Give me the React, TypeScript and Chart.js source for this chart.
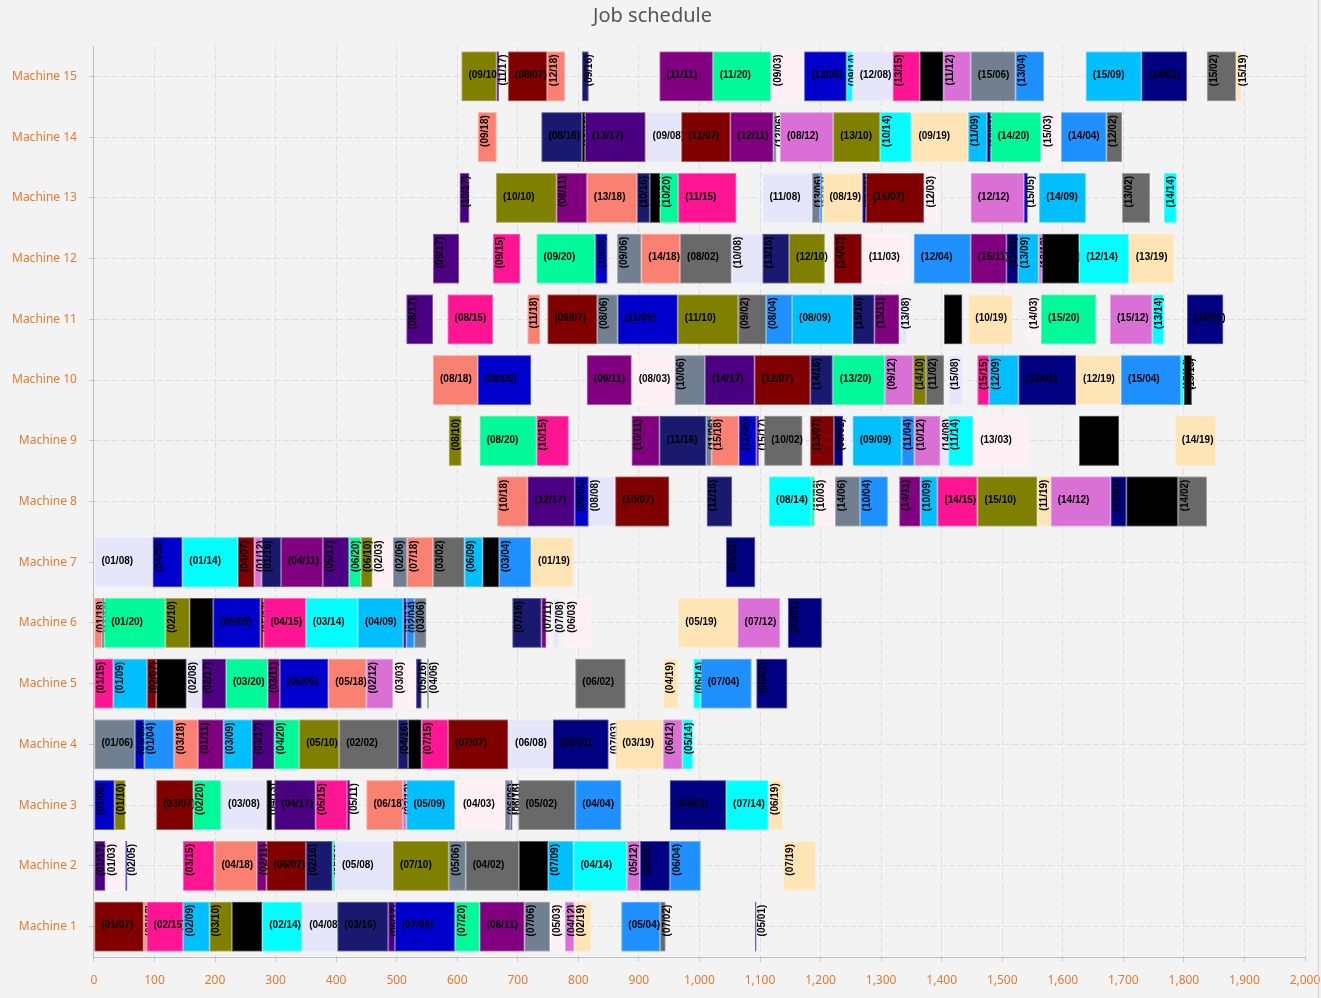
import React, { useEffect, useRef } from "react";
import { Chart, registerables } from "chart.js";

Chart.register(...registerables);

// [operation, job, start, end]
const machine15 = [[9,10,607,665],[11,17,665,669],[8,7,684,748],[12,18,748,778],[9,16,806,817],[11,11,934,1022],[11,20,1022,1118],[9,3,1118,1173],[13,5,1173,1243],[9,14,1243,1253],[12,8,1253,1319],[13,15,1319,1364],[10,13,1364,1403],[11,12,1403,1448],[15,6,1448,1522],[13,4,1522,1569],[15,9,1638,1730],[14,1,1730,1805],[15,2,1838,1886],[15,19,1886,1895]];
const machine14 = [[9,18,634,665],[8,16,739,806],[8,13,806,811],[13,17,811,911],[9,8,911,970],[11,7,970,1051],[12,11,1051,1122],[12,6,1122,1127],[8,12,1133,1221],[13,10,1221,1298],[10,14,1298,1350],[9,19,1350,1444],[11,9,1444,1475],[10,1,1475,1481],[14,20,1481,1564],[15,3,1564,1597],[14,4,1597,1672],[12,2,1672,1698]];
const machine13 = [[10,17,604,620],[10,10,664,764],[8,11,764,814],[13,18,814,897],[10,16,897,918],[9,13,918,935],[10,20,935,965],[11,15,965,1061],[11,8,1104,1186],[13,6,1186,1199],[9,4,1199,1203],[8,19,1203,1269],[9,1,1269,1275],[15,7,1275,1371],[12,3,1371,1393],[12,12,1448,1536],[15,5,1536,1542],[14,9,1561,1638],[13,2,1698,1744],[14,14,1767,1788]];
const machine12 = [[9,17,560,603],[9,15,659,704],[9,20,731,828],[10,5,828,848],[9,6,864,904],[14,18,904,968],[8,2,968,1053],[10,8,1053,1104],[13,16,1104,1148],[12,10,1148,1207],[14,7,1222,1268],[11,3,1268,1345],[12,4,1354,1448],[15,11,1448,1507],[11,1,1507,1526],[13,9,1526,1560],[13,12,1560,1566],[12,13,1566,1627],[12,14,1627,1709],[13,19,1709,1784]];
const machine11 = [[8,17,516,560],[8,15,584,659],[11,18,716,737],[9,7,749,831],[8,6,831,865],[11,5,865,964],[11,10,964,1064],[9,2,1064,1110],[8,4,1110,1153],[8,9,1153,1253],[15,16,1253,1289],[13,11,1289,1330],[13,8,1330,1343],[11,13,1404,1434],[10,19,1444,1517],[14,3,1542,1564],[15,20,1564,1655],[15,12,1678,1748],[13,14,1748,1767],[15,1,1805,1865]];
const machine10 = [[8,18,560,634],[8,5,634,722],[9,11,814,888],[8,3,888,959],[10,6,959,1009],[14,17,1009,1091],[12,7,1091,1183],[14,16,1183,1220],[13,20,1220,1306],[9,12,1306,1353],[14,10,1353,1374],[11,2,1374,1404],[15,8,1411,1435],[15,15,1459,1478],[12,9,1478,1527],[12,1,1527,1622],[12,19,1622,1696],[15,4,1696,1795],[15,14,1795,1800],[15,13,1800,1813]];
const machine9 = [[8,10,586,607],[8,20,637,731],[10,15,731,784],[10,11,888,934],[11,16,934,1011],[11,6,1011,1020],[15,18,1020,1065],[12,5,1065,1094],[15,17,1094,1098],[10,2,1107,1170],[13,7,1183,1222],[8,1,1222,1237],[9,9,1253,1334],[11,4,1334,1355],[10,12,1355,1398],[14,8,1398,1411],[11,14,1411,1452],[13,3,1452,1542],[13,13,1627,1693],[14,19,1785,1853]];
const machine8 = [[10,18,666,716],[12,17,716,794],[9,5,794,817],[8,8,817,861],[10,7,861,950],[12,16,1012,1054],[8,14,1115,1185],[12,20,1185,1190],[10,3,1190,1224],[14,6,1224,1265],[10,4,1265,1311],[14,11,1330,1365],[10,9,1365,1393],[14,15,1393,1459],[15,10,1459,1558],[11,19,1558,1580],[14,12,1580,1679],[13,1,1679,1705],[14,13,1705,1790],[14,2,1790,1838]];
const machine7 = [[1,8,0,97],[4,5,97,146],[1,14,146,238],[4,7,238,265],[1,12,265,277],[1,16,277,309],[4,11,309,378],[5,17,378,421],[6,20,421,441],[6,10,441,460],[2,3,460,494],[2,6,494,517],[7,18,517,560],[3,2,560,612],[6,9,612,642],[6,13,642,669],[3,4,669,722],[1,19,722,792],[4,1,1044,1092]];
const machine6 = [[1,18,0,13],[1,2,13,17],[1,20,17,118],[2,10,118,158],[2,13,158,197],[5,5,197,275],[5,7,275,280],[4,15,280,350],[3,14,350,436],[4,9,436,511],[7,17,511,516],[2,4,516,529],[3,6,529,549],[7,16,691,739],[7,11,739,747],[7,8,758,768],[6,3,778,821],[5,19,965,1063],[7,12,1063,1133],[7,1,1146,1202]];
const machine5 = [[1,15,0,32],[1,9,32,88],[2,7,88,103],[1,13,103,153],[2,8,153,178],[2,17,178,218],[3,20,218,287],[3,11,287,307],[6,5,307,387],[5,18,387,450],[2,12,450,494],[3,3,494,532],[5,16,532,541],[4,6,550,553],[6,2,795,878],[4,19,940,965],[6,14,990,1002],[7,4,1002,1086],[6,1,1094,1145]];
const machine4 = [[1,6,0,68],[3,5,68,83],[1,4,83,132],[3,18,132,172],[1,11,172,214],[3,9,214,261],[3,17,261,298],[4,20,298,339],[5,10,339,405],[2,2,405,502],[4,16,502,519],[5,13,519,541],[7,15,541,585],[7,7,585,684],[6,8,684,758],[1,1,758,850],[7,3,850,861],[3,19,861,940],[6,12,940,972],[5,14,972,989]];
const machine3 = [[1,5,0,34],[1,10,34,52],[3,7,103,164],[2,20,164,210],[3,8,210,285],[4,13,285,294],[4,17,298,366],[5,15,366,418],[5,11,418,423],[6,18,450,510],[3,12,510,516],[5,9,516,596],[4,3,598,679],[6,6,679,688],[6,16,688,691],[5,2,701,795],[4,4,795,871],[3,1,951,1044],[7,14,1044,1114],[6,19,1114,1138]];
const machine2 = [[1,17,0,19],[1,3,19,52],[2,5,52,55],[3,15,147,199],[4,18,199,269],[2,11,269,285],[6,7,285,350],[2,16,350,394],[5,20,394,398],[5,8,398,494],[7,10,494,586],[5,6,586,614],[4,2,614,702],[7,13,702,750],[7,9,750,792],[4,14,792,880],[5,12,880,902],[2,1,902,951],[6,4,951,1002],[7,19,1138,1192]];
const machine1 = [[1,7,0,82],[2,18,82,87],[2,15,87,147],[2,9,147,191],[3,10,191,228],[3,13,228,278],[2,14,278,344],[4,8,344,402],[3,16,402,486],[6,17,486,497],[7,5,497,596],[7,20,596,637],[6,11,637,711],[7,6,711,753],[5,3,753,778],[4,12,778,793],[2,19,793,821],[5,4,871,935],[7,2,935,944],[5,1,1092,1094]];

const machineNames = ["Machine 15","Machine 14","Machine 13","Machine 12","Machine 11","Machine 10","Machine 9","Machine 8","Machine 7","Machine 6","Machine 5","Machine 4","Machine 3","Machine 2","Machine 1"];
const machineTasks = [machine15,machine14,machine13,machine12,machine11,machine10,machine9,machine8,machine7,machine6,machine5,machine4,machine3,machine2,machine1];

const jobColors = ["#000080","#696969","#FFF0F5","#1E90FF","#0000CD","#708090","#800000","#E6E6FA","#00BFFF","#808000","#800080","#DA70D6","#000000","#00FFFF","#FF1493","#191970","#4B0082","#FA8072","#FFE4B5","#00FA9A"];

const xTicks = [0, 2000, 100];

const pad2 = (n: number) => String(n).padStart(2, "0");

function lighten(hex: string, f: number) {
  const n = parseInt(hex.slice(1), 16);
  const r = (n >> 16) & 255, g = (n >> 8) & 255, b = n & 255;
  const m = (c: number) => Math.round(c + (255 - c) * f);
  return `rgb(${m(r)},${m(g)},${m(b)})`;
}

export default function App() {
  const ref = useRef<HTMLCanvasElement | null>(null);
  useEffect(() => {
    const tasks: { m: string; op: number; job: number; s: number; e: number }[] = [];
    machineTasks.forEach((list, mi) => {
      list.forEach(([op, job, s, e]) => tasks.push({ m: machineNames[mi], op, job, s, e }));
    });
    const orange = "#E27B2F";
    const labelPlugin = {
      id: "barLabels",
      afterDatasetsDraw(chart: any) {
        const ctx = chart.ctx as CanvasRenderingContext2D;
        const meta = chart.getDatasetMeta(0);
        ctx.save();
        ctx.font = 'bold 10px "Liberation Sans", Arial, sans-serif';
        ctx.fillStyle = "#000";
        meta.data.forEach((el: any, i: number) => {
          el.draw(ctx);
          const t = tasks[i];
          const text = `(${pad2(t.op)}/${pad2(t.job)})`;
          const p = el.getProps(["x", "y", "base", "height"], true);
          const left = Math.min(p.x, p.base);
          const right = Math.max(p.x, p.base);
          const w = right - left;
          const tw = ctx.measureText(text).width;
          ctx.fillStyle = "#000";
          if (w >= tw + 3) {
            ctx.textAlign = "left";
            ctx.textBaseline = "middle";
            ctx.fillText(text, left + 7, p.y - 1);
          } else {
            ctx.save();
            ctx.translate(left + 7, p.y - p.height / 2 + 3);
            ctx.rotate(-Math.PI / 2);
            ctx.textAlign = "right";
            ctx.textBaseline = "middle";
            ctx.fillText(text, 0, 0);
            ctx.restore();
          }
        });
        ctx.restore();
      },
    };
    const chart = new Chart(ref.current!, {
      type: "bar",
      data: {
        labels: machineNames,
        datasets: [
          {
            data: tasks.map((t) => ({ x: [t.s, t.e], y: t.m })) as any,
            backgroundColor: tasks.map((t) => jobColors[t.job - 1]),
            borderColor: tasks.map((t) => lighten(jobColors[t.job - 1], 0.35)),
            borderWidth: 1,
            borderSkipped: false,
            categoryPercentage: 1,
            barPercentage: 0.82,
          } as any,
        ],
      },
      options: {
        indexAxis: "y",
        responsive: false,
        devicePixelRatio: 1,
        animation: false,
        layout: { padding: { left: 0, right: 16, top: 0, bottom: 0 } },
        plugins: {
          legend: { display: false },
          tooltip: { enabled: false },
          title: {
            display: true,
            text: "Job schedule",
            color: "#555555",
            font: { family: '"Noto Sans", "Open Sans", sans-serif', size: 20, weight: "normal" },
            padding: { top: 4, bottom: 18 },
          },
        },
        scales: {
          x: {
            type: "linear",
            min: xTicks[0],
            max: xTicks[1],
            afterFit: (scale: any) => {
              scale.paddingLeft = 0;
              scale.paddingRight = 0;
              scale.height = 41;
            },
            ticks: {
              stepSize: xTicks[2],
              color: orange,
              font: { family: '"Noto Sans", sans-serif', size: 12 },
              padding: 11,
            },
            grid: { color: "#DEDEDE", tickLength: 5, tickColor: "#C8C8C8" },
            border: { color: "#BDBDBD", dash: [6, 3] },
          },
          y: {
            type: "category",
            offset: true,
            afterFit: (scale: any) => {
              scale.paddingTop = 0;
              scale.paddingBottom = 0;
            },
            ticks: {
              color: orange,
              font: { family: '"Noto Sans", sans-serif', size: 12 },
              padding: 12,
            },
            grid: { color: "#DEDEDE", offset: false, tickLength: 5, tickColor: "#C8C8C8" },
            border: { color: "#BDBDBD", dash: [6, 3] },
          },
        },
      },
      plugins: [labelPlugin as any],
    });
    return () => chart.destroy();
  }, []);
  return (
    <div
      style={{
        position: "absolute",
        left: 0,
        top: 0,
        width: 1321,
        height: 998,
        background: "#F3F3F3",
      }}
    >
      <canvas ref={ref} width={1321} height={998} style={{ display: "block" }} />
      <div
        style={{
          position: "absolute",
          left: 1318,
          top: 0,
          width: 1,
          height: 998,
          background: "#D2D2D2",
        }}
      />
    </div>
  );
}
